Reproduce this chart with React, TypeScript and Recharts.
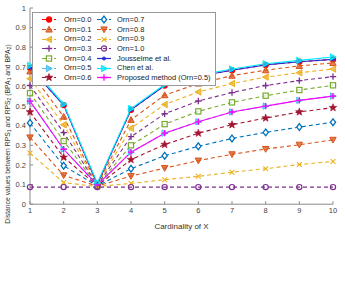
import React from "react"
import { LineChart, Line, XAxis, YAxis, Legend } from "recharts"

// Cardinality of X
const cardinality = [1, 2, 3, 4, 5, 6, 7, 8, 9, 10]
const xTicks = [1, 2, 3, 4, 5, 6, 7, 8, 9, 10]
const yTicks = [0, 0.1, 0.2, 0.3, 0.4, 0.5, 0.6, 0.7, 0.8, 0.9, 1]

// distance values
const orn00 = [0.695, 0.505, 0.101, 0.481, 0.605, 0.652, 0.683, 0.71, 0.726, 0.738]
const orn01 = [0.677, 0.446, 0.1, 0.43, 0.556, 0.615, 0.655, 0.683, 0.705, 0.72]
const orn02 = [0.64, 0.405, 0.098, 0.387, 0.508, 0.572, 0.615, 0.648, 0.67, 0.689]
const orn03 = [0.605, 0.365, 0.097, 0.344, 0.461, 0.526, 0.569, 0.605, 0.63, 0.65]
const orn04 = [0.566, 0.322, 0.096, 0.3, 0.408, 0.473, 0.519, 0.553, 0.582, 0.606]
const orn05 = [0.525, 0.28, 0.095, 0.265, 0.362, 0.42, 0.47, 0.5, 0.529, 0.551]
const orn06 = [0.47, 0.239, 0.094, 0.227, 0.304, 0.362, 0.405, 0.439, 0.47, 0.492]
const orn07 = [0.414, 0.196, 0.093, 0.181, 0.247, 0.295, 0.335, 0.366, 0.393, 0.418]
const orn08 = [0.34, 0.147, 0.092, 0.143, 0.184, 0.222, 0.254, 0.281, 0.303, 0.328]
const orn09 = [0.261, 0.11, 0.09, 0.106, 0.125, 0.142, 0.163, 0.181, 0.202, 0.218]
const orn10 = [0.087, 0.087, 0.087, 0.087, 0.087, 0.087, 0.087, 0.087, 0.087, 0.087]
const jousselme = [0.695, 0.505, 0.103, 0.481, 0.605, 0.652, 0.683, 0.71, 0.726, 0.738]
const chen = [0.707, 0.51, 0.108, 0.487, 0.61, 0.657, 0.689, 0.716, 0.733, 0.75]
const proposed = [0.525, 0.28, 0.098, 0.265, 0.362, 0.42, 0.47, 0.5, 0.529, 0.551]

type Shape = "circle" | "triUp" | "triLeft" | "triRight" | "triDown" | "plus" | "x" | "square" | "diamond" | "star" | "dot"

interface SeriesDef {
  key: string
  name: string
  values: number[]
  color: string
  dashed: boolean
  shape: Shape
  filled: boolean
}

const series: SeriesDef[] = [
  { key: "o0", name: "Orn=0.0", values: orn00, color: "#ff0000", dashed: true, shape: "circle", filled: true },
  { key: "o1", name: "Orn=0.1", values: orn01, color: "#d95319", dashed: true, shape: "triUp", filled: true },
  { key: "o2", name: "Orn=0.2", values: orn02, color: "#edb120", dashed: true, shape: "triLeft", filled: true },
  { key: "o3", name: "Orn=0.3", values: orn03, color: "#7e2f8e", dashed: true, shape: "plus", filled: false },
  { key: "o4", name: "Orn=0.4", values: orn04, color: "#77ac30", dashed: true, shape: "square", filled: false },
  { key: "o5", name: "Orn=0.5", values: orn05, color: "#4dbeee", dashed: true, shape: "triRight", filled: true },
  { key: "o6", name: "Orn=0.6", values: orn06, color: "#a2142f", dashed: true, shape: "star", filled: true },
  { key: "o7", name: "Orn=0.7", values: orn07, color: "#0072bd", dashed: true, shape: "diamond", filled: false },
  { key: "o8", name: "Orn=0.8", values: orn08, color: "#d95319", dashed: true, shape: "triDown", filled: true },
  { key: "o9", name: "Orn=0.9", values: orn09, color: "#edb120", dashed: true, shape: "x", filled: false },
  { key: "o10", name: "Orn=1.0", values: orn10, color: "#7e2f8e", dashed: true, shape: "circle", filled: false },
  { key: "jo", name: "Jousselme et al.", values: jousselme, color: "#2b2bd6", dashed: false, shape: "dot", filled: false },
  { key: "ch", name: "Chen et al.", values: chen, color: "#00eaff", dashed: false, shape: "triRight", filled: true },
  { key: "pr", name: "Proposed method (Orn=0.5)", values: proposed, color: "#ff00ff", dashed: false, shape: "plus", filled: false },
]

const data = cardinality.map((x, i) => {
  const row: Record<string, number> = { x }
  series.forEach((s) => { row[s.key] = s.values[i] })
  return row
})

const FONT = "'Liberation Sans', Arial, sans-serif"
const AXIS = "#8a8a8a"
const CHART_W = 345
const CHART_H = 304
const MARGIN = { top: 8, right: 12, bottom: 0, left: 0 }
const X_AXIS_H = 26

function Marker({ shape, cx, cy, color, filled }: { shape: Shape; cx: number; cy: number; color: string; filled: boolean }) {
  const fill = filled ? color : "#ffffff"
  const sw = 1
  const r = 3.2
  switch (shape) {
    case "circle":
      return <circle cx={cx} cy={cy} r={2.6} fill={filled ? color : "none"} stroke={color} strokeWidth={1.2} />
    case "dot":
      return <circle cx={cx} cy={cy} r={1.6} fill={color} stroke={color} strokeWidth={0.8} />
    case "triUp":
      return <polygon points={`${cx},${cy - r} ${cx - r},${cy + r * 0.8} ${cx + r},${cy + r * 0.8}`} fill={fill} fillOpacity={0.75} stroke={color} strokeWidth={sw} />
    case "triDown":
      return <polygon points={`${cx},${cy + r} ${cx - r},${cy - r * 0.8} ${cx + r},${cy - r * 0.8}`} fill={fill} fillOpacity={0.75} stroke={color} strokeWidth={sw} />
    case "triLeft":
      return <polygon points={`${cx - r},${cy} ${cx + r * 0.8},${cy - r} ${cx + r * 0.8},${cy + r}`} fill={fill} fillOpacity={0.75} stroke={color} strokeWidth={sw} />
    case "triRight":
      return <polygon points={`${cx + r},${cy} ${cx - r * 0.8},${cy - r} ${cx - r * 0.8},${cy + r}`} fill={fill} fillOpacity={0.75} stroke={color} strokeWidth={sw} />
    case "plus":
      return <path d={`M${cx - r},${cy}H${cx + r}M${cx},${cy - r}V${cy + r}`} stroke={color} strokeWidth={1.3} fill="none" />
    case "x":
      return <path d={`M${cx - 2.4},${cy - 2.4}L${cx + 2.4},${cy + 2.4}M${cx - 2.4},${cy + 2.4}L${cx + 2.4},${cy - 2.4}`} stroke={color} strokeWidth={1.1} fill="none" />
    case "square":
      return <rect x={cx - 2.6} y={cy - 2.6} width={5.2} height={5.2} fill="#ffffff" fillOpacity={0.6} stroke={color} strokeWidth={1.2} />
    case "diamond":
      return <polygon points={`${cx},${cy - 3.4} ${cx + 2.6},${cy} ${cx},${cy + 3.4} ${cx - 2.6},${cy}`} fill="#ffffff" stroke={color} strokeWidth={1.3} />
    case "star": {
      const pts: string[] = []
      for (let k = 0; k < 10; k++) {
        const rad = k % 2 === 0 ? 4 : 1.7
        const a = -Math.PI / 2 + (k * Math.PI) / 5
        pts.push(`${cx + rad * Math.cos(a)},${cy + rad * Math.sin(a)}`)
      }
      return <polygon points={pts.join(" ")} fill={color} stroke={color} strokeWidth={0.6} />
    }
  }
  return null
}

function LegendIcon({ s }: { s: SeriesDef }) {
  return (
    <svg width={14} height={9} style={{ display: "block", flex: "none" }}>
      <line x1={0} y1={4.5} x2={14} y2={4.5} stroke={s.color} strokeWidth={1.2} strokeDasharray={s.dashed ? "4 2" : undefined} />
      <Marker shape={s.shape} cx={7} cy={4.5} color={s.color} filled={s.filled} />
    </svg>
  )
}

function LegendBox() {
  const col1 = series.slice(0, 7)
  const col2 = series.slice(7)
  const column = (items: SeriesDef[], gap: number) => (
    <div style={{ display: "flex", flexDirection: "column" }}>
      {items.map((s) => (
        <div key={s.key} style={{ display: "flex", alignItems: "center", height: 9.7 }}>
          <LegendIcon s={s} />
          <span style={{ marginLeft: gap, whiteSpace: "nowrap" }}>{s.name}</span>
        </div>
      ))}
    </div>
  )
  return (
    <div
      style={{
        display: "flex",
        border: "1px solid #999",
        background: "#fff",
        padding: "2px 4px 2px 9px",
        fontFamily: FONT,
        fontSize: 7.5,
        color: "#222",
        lineHeight: "9.7px",
      }}
    >
      <div style={{ width: 55 }}>{column(col1, 8)}</div>
      {column(col2, 6)}
    </div>
  )
}

// y-axis title with subscripts, centred beside the plot area
function YTitle() {
  const plotH = CHART_H - MARGIN.top - MARGIN.bottom - X_AXIS_H
  const x = 9.5
  const y = MARGIN.top + plotH / 2 - 9
  const sub = 5
  return (
    <g transform={`translate(${x} ${y}) rotate(-90)`}>
      <text x={0} y={0} textAnchor="middle" fontFamily={FONT} fontSize={6.8} fill="#333">
        Distance values between RPS
        <tspan fontSize={sub} dy={1.4}>1</tspan>
        <tspan dy={-1.4}> and RPS</tspan>
        <tspan fontSize={sub} dy={1.4}>2</tspan>
        <tspan dy={-1.4}> (BPA</tspan>
        <tspan fontSize={sub} dy={1.4}>1</tspan>
        <tspan dy={-1.4}> and BPA</tspan>
        <tspan fontSize={sub} dy={1.4}>2</tspan>
        <tspan dy={-1.4}>)</tspan>
      </text>
    </g>
  )
}

export default function App() {
  const tickStyle = { fontSize: 7.5, fill: "#444", fontFamily: FONT }
  return (
    <div style={{ position: "absolute", left: 0, top: 0, background: "#fff" }}>
      <LineChart width={CHART_W} height={CHART_H} data={data} margin={MARGIN}>
        <XAxis
          dataKey="x"
          type="number"
          domain={[1, 10]}
          ticks={xTicks}
          height={X_AXIS_H}
          stroke={AXIS}
          tickSize={-3}
          tickMargin={6}
          tick={tickStyle}
          label={{ value: "Cardinality of X", position: "insideBottom", offset: 0, dy: -1, fontSize: 8, fill: "#333", fontFamily: FONT }}
        />
        <XAxis xAxisId="top" dataKey="x" type="number" domain={[1, 10]} ticks={xTicks} orientation="top" height={0} stroke={AXIS} tickSize={-3} tick={false} />
        <YAxis
          domain={[0, 1]}
          ticks={yTicks}
          width={30}
          stroke={AXIS}
          tickSize={-3}
          tickMargin={7}
          tick={tickStyle}
          tickFormatter={(v: number) => String(v)}
        />
        <YAxis yAxisId="right" orientation="right" domain={[0, 1]} ticks={yTicks} width={0} stroke={AXIS} tickSize={-3} tick={false} />
        {series.map((s) => (
          <Line
            key={s.key}
            dataKey={s.key}
            name={s.name}
            stroke={s.color}
            strokeWidth={1.1}
            strokeDasharray={s.dashed ? "4 3" : undefined}
            isAnimationActive={false}
            dot={(p: any) => <Marker key={`${s.key}-${p.index}`} shape={s.shape} cx={p.cx} cy={p.cy} color={s.color} filled={s.filled} />}
            activeDot={false}
          />
        ))}
        <YTitle />
        <Legend content={() => <LegendBox />} wrapperStyle={{ position: "absolute", top: 12, left: 32, width: "auto" }} />
      </LineChart>
    </div>
  )
}
